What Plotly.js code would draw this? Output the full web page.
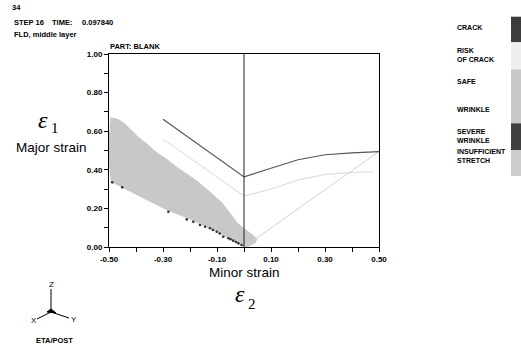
<!DOCTYPE html>
<html><head><meta charset="utf-8">
<script src="https://cdn.plot.ly/plotly-3.0.1.min.js"></script>
<style>html,body{margin:0;padding:0;background:#fff}#c{width:521px;height:350px}</style>
</head><body><div id="c"></div>
<script>
// Forming limit curve (crack)
var flcX = [-0.30, 0.00, 0.10, 0.20, 0.30, 0.40, 0.50];
var flcY = [0.662, 0.363, 0.408, 0.452, 0.478, 0.488, 0.494];
// Risk-of-crack (safety margin) curve
var riskX = [-0.30, 0.00, 0.10, 0.20, 0.30, 0.40, 0.48];
var riskY = [0.560, 0.264, 0.300, 0.347, 0.376, 0.386, 0.390];
// Equibiaxial reference line
var diagX = [0.00, 0.50];
var diagY = [0.00, 0.495];
// Vertical line at minor strain = 0
var vertX = [0.00, 0.00];
var vertY = [0.00, 1.00];
// Safe-zone strain points (outline of the dense point cloud)
var safeX = [-0.495, -0.470, -0.447, -0.420, -0.397, -0.360, -0.323, -0.286, -0.250, -0.210, -0.175, -0.130, -0.083, -0.055, -0.027, 0.000, 0.028, 0.045, 0.040, 0.010, -0.010, -0.040, -0.100, -0.200, -0.280, -0.380, -0.450, -0.490, -0.498, -0.498];
var safeY = [0.667, 0.660, 0.641, 0.605, 0.571, 0.530, 0.485, 0.451, 0.410, 0.372, 0.338, 0.285, 0.226, 0.175, 0.123, 0.090, 0.062, 0.040, 0.025, 0.004, 0.012, 0.037, 0.082, 0.148, 0.192, 0.262, 0.315, 0.342, 0.450, 0.600];
// Severe-wrinkle strain points
var wrinkleX = [-0.488, -0.451, -0.280, -0.212, -0.188, -0.163, -0.144, -0.126, -0.101, -0.077, -0.058, -0.040, -0.021, -0.009, -0.030, -0.050, -0.090, -0.115];
var wrinkleY = [0.335, 0.309, 0.183, 0.143, 0.131, 0.114, 0.105, 0.097, 0.079, 0.053, 0.045, 0.033, 0.019, 0.010, 0.026, 0.040, 0.070, 0.088];
// Axis ticks
var xTickVals = [-0.5,-0.4,-0.3,-0.2,-0.1,0,0.1,0.2,0.3,0.4,0.5];
var xTickText = ['-0.50',' ','-0.30',' ','-0.10',' ','0.10',' ','0.30',' ','0.50'];
var yTickVals = [0,0.1,0.2,0.3,0.4,0.5,0.6,0.7,0.8,0.9,1.0];
var yTickText = ['0.00',' ','0.20',' ','0.40',' ','0.60',' ','0.80',' ','1.00'];
// Legend
var legendLabels = ['CRACK','RISK<br>OF CRACK','SAFE','WRINKLE','SEVERE<br>WRINKLE','INSUFFICIENT<br>STRETCH'];
var legendColors = ['#3c3c3c','#eeeeee','#c8c8c8','#c8c8c8','#404040','#cdcdcd'];

var L=109, R=379, T=54, B=247;
function px(x){return (x-L)/(R-L);}
function py(y){return (B-y)/(B-T);}
var F = 'Liberation Sans, Arial, sans-serif';
var SERIF = 'Liberation Serif, Times New Roman, serif';

var traces = [
  {x:safeX, y:safeY, mode:'lines', fill:'toself', fillcolor:'#c8c8c8', line:{color:'#c8c8c8', width:2}, hoverinfo:'skip'},
  {x:wrinkleX, y:wrinkleY, mode:'markers', marker:{color:'#333333', size:2.6}},
  {x:diagX, y:diagY, mode:'lines', line:{color:'#d2d2d2', width:1}},
  {x:riskX, y:riskY, mode:'lines', line:{color:'#d8d8d8', width:1}},
  {x:flcX, y:flcY, mode:'lines', line:{color:'#555555', width:1.2}},
  {x:vertX, y:vertY, mode:'lines', line:{color:'#222222', width:1}}
];

var ann = [], shapes = [];
function txt(t, x, y, opt){
  opt = opt||{};
  ann.push({text:t, x:px(x), y:py(y), xref:'paper', yref:'paper', showarrow:false,
    xanchor:opt.xa||'left', yanchor:opt.ya||'middle', align:opt.align||'left',
    font:{family:opt.family||F, size:opt.size||7.5, color:'#000', weight:opt.w||'bold', style:opt.style||'normal'}});
}
txt('34', 10, 7);
txt('STEP 16', 12, 22);
txt('TIME:', 50, 22);
txt('0.097840', 80, 22);
txt('FLD, middle layer', 12, 34);
txt('PART: BLANK', 108, 46);
txt('Major strain', 51, 147, {xa:'center', size:13.5, w:'normal'});
txt('Minor strain', 244, 272, {xa:'center', size:13.5, w:'normal'});
txt('ε', 42.5, 120, {xa:'center', size:24, w:'normal', style:'italic', family:SERIF});
txt('1', 55, 128, {xa:'center', size:15, w:'normal', family:SERIF});
txt('ε', 240, 294, {xa:'center', size:24, w:'normal', style:'italic', family:SERIF});
txt('2', 252, 304, {xa:'center', size:15, w:'normal', family:SERIF});

var legText = [27.3, 55, 81.7, 109, 135.5, 156];
for (var i=0;i<legendLabels.length;i++){
  txt(legendLabels[i], 455, legText[i], {size:7, align:'left'});
}
var blockEdges = [16.7, 42.3, 69.3, 123.3, 150, 176];
var blockColors = [legendColors[0], legendColors[1], legendColors[2], legendColors[4], legendColors[5]];
for (var j=0;j<blockColors.length;j++){
  shapes.push({type:'rect', xref:'paper', yref:'paper', x0:px(511), x1:px(522), y0:py(blockEdges[j]), y1:py(blockEdges[j+1]), fillcolor:blockColors[j], line:{width:0}, layer:'above'});
}
// coordinate triad
function seg(x0,y0,x1,y1,w){shapes.push({type:'line', xref:'paper', yref:'paper', x0:px(x0), y0:py(y0), x1:px(x1), y1:py(y1), line:{color:'#000', width:w||1}});}
seg(51,289,51,312);
seg(51,312,37,319);
seg(51,312,69,318);
shapes.push({type:'path', xref:'paper', yref:'paper', path:'M '+px(47)+' '+py(312)+' L '+px(51)+' '+py(309)+' L '+px(56)+' '+py(313)+' Z', fillcolor:'#000', line:{color:'#000', width:1}});
txt('Z', 51.7, 284, {xa:'center', size:8, w:'normal'});
txt('X', 33.5, 320.5, {xa:'center', size:8, w:'normal'});
txt('Y', 74, 319, {xa:'center', size:8, w:'normal'});
txt('ETA/POST', 54.5, 340, {xa:'center', size:7.5});

var layout = {
  width:521, height:350, margin:{l:L, r:521-R, t:T, b:350-B},
  paper_bgcolor:'#fff', plot_bgcolor:'#fff', showlegend:false,
  xaxis:{range:[-0.5,0.5], tickvals:xTickVals, ticktext:xTickText, ticks:'outside', ticklen:4, tickcolor:'#000',
    showgrid:false, zeroline:false, showline:true, linecolor:'#000', linewidth:1, mirror:true,
    tickfont:{family:F, size:8, weight:'bold', color:'#000'}},
  yaxis:{range:[0,1], tickvals:yTickVals, ticktext:yTickText, ticks:'outside', ticklen:4, tickcolor:'#000',
    showgrid:false, zeroline:false, showline:true, linecolor:'#000', linewidth:1, mirror:true,
    tickfont:{family:F, size:8, weight:'bold', color:'#000'}},
  annotations:ann, shapes:shapes
};
Plotly.newPlot('c', traces, layout, {staticPlot:true, displayModeBar:false});
</script></body></html>
